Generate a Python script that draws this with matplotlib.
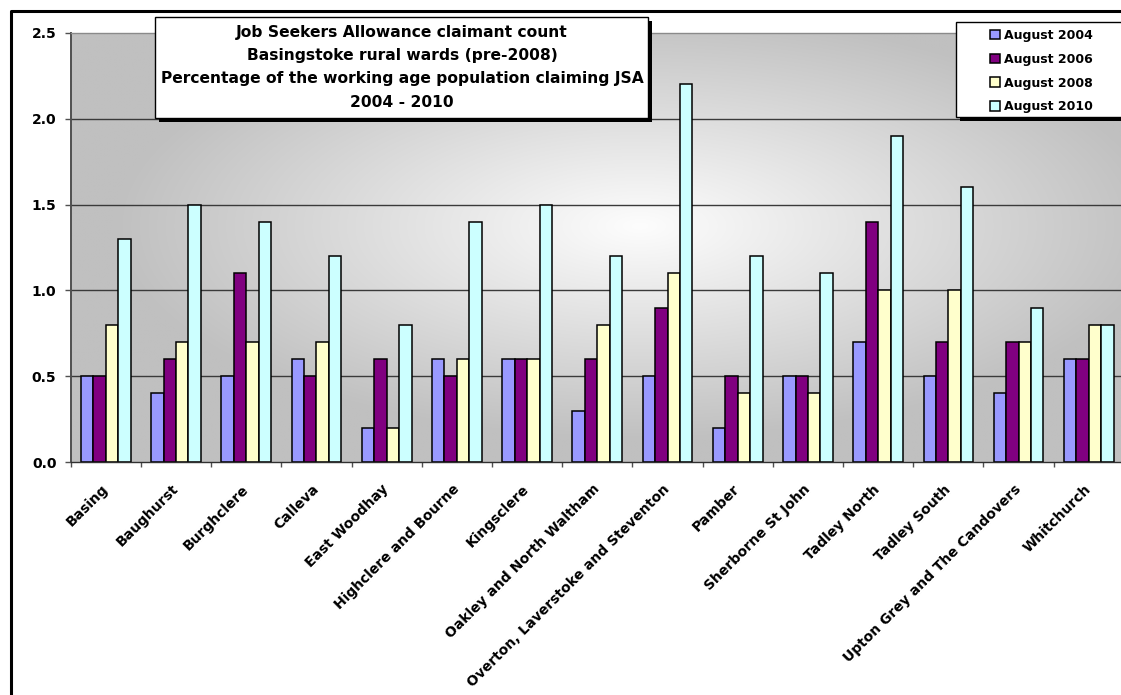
import numpy as np
import matplotlib
matplotlib.use("Agg")
import matplotlib.pyplot as plt
from matplotlib.patches import Rectangle
from matplotlib.lines import Line2D

# ---------------- data ----------------
categories = ["Basing", "Baughurst", "Burghclere", "Calleva", "East Woodhay",
              "Highclere and Bourne", "Kingsclere", "Oakley and North Waltham",
              "Overton, Laverstoke and Steventon", "Pamber", "Sherborne St John",
              "Tadley North", "Tadley South", "Upton Grey and The Candovers",
              "Whitchurch"]
aug2004 = [0.5, 0.4, 0.5, 0.6, 0.2, 0.6, 0.6, 0.3, 0.5, 0.2, 0.5, 0.7, 0.5, 0.4, 0.6]
aug2006 = [0.5, 0.6, 1.1, 0.5, 0.6, 0.5, 0.6, 0.6, 0.9, 0.5, 0.5, 1.4, 0.7, 0.7, 0.6]
aug2008 = [0.8, 0.7, 0.7, 0.7, 0.2, 0.6, 0.6, 0.8, 1.1, 0.4, 0.4, 1.0, 1.0, 0.7, 0.8]
aug2010 = [1.3, 1.5, 1.4, 1.2, 0.8, 1.4, 1.5, 1.2, 2.2, 1.2, 1.1, 1.9, 1.6, 0.9, 0.8]
series_labels = ["August 2004", "August 2006", "August 2008", "August 2010"]
colors = ["#9999FF", "#800080", "#FFFFCC", "#CCFFFF"]
yticks = [0.0, 0.5, 1.0, 1.5, 2.0, 2.5]
title_lines = ["Job Seekers Allowance claimant count",
               "Basingstoke rural wards (pre-2008)",
               "Percentage of the working age population claiming JSA",
               "2004 - 2010"]

plt.rcParams["font.family"] = ["DejaVu Sans"]
plt.rcParams["font.weight"] = "bold"

W, H = 1121, 695
fig = plt.figure(figsize=(W / 100, H / 100), dpi=100)
fig.patch.set_facecolor("white")


def fx(px):
    return px / W


def fy(py):
    return 1 - py / H


# plot area in pixels
ax_l, ax_r, ax_t, ax_b = 70.7, 1123.9, 33.0, 462.0
ax = fig.add_axes([fx(ax_l), fy(ax_b), (ax_r - ax_l) / W, (ax_b - ax_t) / H])
ax.patch.set_visible(False)

# radial grey gradient background
nx, ny = 500, 250
gx = np.linspace(0, 1, nx)
gy = np.linspace(0, 1, ny)
GX, GY = np.meshgrid(gx, gy)
cx, cy = 0.54, 0.55
t = np.sqrt(((GX - cx) / 0.5) ** 2 + ((GY - cy) / 0.5) ** 2)
t = np.clip(t, 0, 1)
g = (253 - t * (253 - 192)) / 255.0
img = np.dstack([g, g, g])
ax.imshow(img, extent=[0, 1, 0, 1], origin="lower", transform=ax.transAxes,
          aspect="auto", zorder=0, interpolation="bilinear")

# bars
x = np.arange(len(categories))
w = 0.177
series = [aug2004, aug2006, aug2008, aug2010]
handles = []
for k, (vals, lab, c) in enumerate(zip(series, series_labels, colors)):
    b = ax.bar(x + (k - 1.5) * w, vals, w, color=c, edgecolor="black",
               linewidth=1.1, label=lab, zorder=2)
    handles.append(b)

ax.set_xlim(-0.5, len(categories) - 0.5)
ax.set_ylim(yticks[0], yticks[-1])

# gridlines
for yv in yticks[1:-1]:
    ax.axhline(yv, color="#3a3a3a", lw=1.0, zorder=1)

# spines
ax.spines["right"].set_visible(False)
ax.spines["top"].set_color("#8a8a8a")
ax.spines["top"].set_linewidth(1.0)
ax.spines["left"].set_color("#505050")
ax.spines["left"].set_linewidth(1.4)
ax.spines["bottom"].set_color("#303030")
ax.spines["bottom"].set_linewidth(1.0)

# y axis
ax.set_yticks(yticks)
ax.set_yticklabels([f"{v:.1f}" for v in yticks], fontsize=10, fontweight="bold")
ax.tick_params(axis="y", direction="out", length=4.3, width=1.0, color="#505050",
               pad=6.0)

# x axis: ticks at category boundaries, labels at centres
ax.set_xticks(np.arange(-0.5, len(categories), 1.0))
ax.set_xticklabels([])
ax.tick_params(axis="x", which="major", direction="out", length=3.8, width=1.0,
               color="#505050")
ax.set_xticks(x, minor=True)
ax.set_xticklabels(categories, minor=True, rotation=45, ha="right", va="center",
                   rotation_mode="anchor", fontsize=10, fontweight="bold")
ax.tick_params(axis="x", which="minor", length=0, pad=18.0)

# figure border (top and left visible)
fig.add_artist(Line2D([fx(10.5), fx(10.5), fx(1200)], [fy(800), fy(10.8), fy(10.8)],
                      color="black", lw=2.2, transform=fig.transFigure))

# title box with shadow
tb_x0, tb_y0, tb_x1, tb_y1 = 155.0, 17.0, 648.0, 118.0
sh = 4.0
fig.add_artist(Rectangle((fx(tb_x0 + sh), fy(tb_y1 + sh)), (tb_x1 - tb_x0) / W,
                         (tb_y1 - tb_y0) / H, transform=fig.transFigure,
                         facecolor="black", edgecolor="none", zorder=2))
fig.add_artist(Rectangle((fx(tb_x0), fy(tb_y1)), (tb_x1 - tb_x0) / W,
                         (tb_y1 - tb_y0) / H, transform=fig.transFigure,
                         facecolor="white", edgecolor="black", lw=1.0, zorder=2.5))
baselines = [36.7, 60.0, 83.3, 106.7]
for line, yb in zip(title_lines, baselines):
    fig.text(fx((tb_x0 + tb_x1) / 2 + 0.5), fy(yb), line, ha="center", va="baseline",
             fontsize=11.2, fontweight="bold", zorder=3)

# legend box with shadow
lb_x0, lb_y0, lb_x1, lb_y1 = 955.7, 22.0, 1135.0, 117.3
fig.add_artist(Rectangle((fx(lb_x0 + sh), fy(lb_y1 + sh)), (lb_x1 - lb_x0) / W,
                         (lb_y1 - lb_y0) / H, transform=fig.transFigure,
                         facecolor="black", edgecolor="none", zorder=2))
fig.add_artist(Rectangle((fx(lb_x0), fy(lb_y1)), (lb_x1 - lb_x0) / W,
                         (lb_y1 - lb_y0) / H, transform=fig.transFigure,
                         facecolor="white", edgecolor="black", lw=1.0, zorder=2.5))
leg = fig.legend(handles, series_labels, loc="upper left",
                 bbox_to_anchor=(fx(990), fy(29.0)), bbox_transform=fig.transFigure,
                 frameon=False, borderpad=0, borderaxespad=0, handlelength=0.8,
                 handleheight=0.8, handletextpad=0.35, labelspacing=0.86,
                 prop={"weight": "bold", "size": 9})
leg.set_zorder(5)

fig.savefig("out.png", dpi=100)
